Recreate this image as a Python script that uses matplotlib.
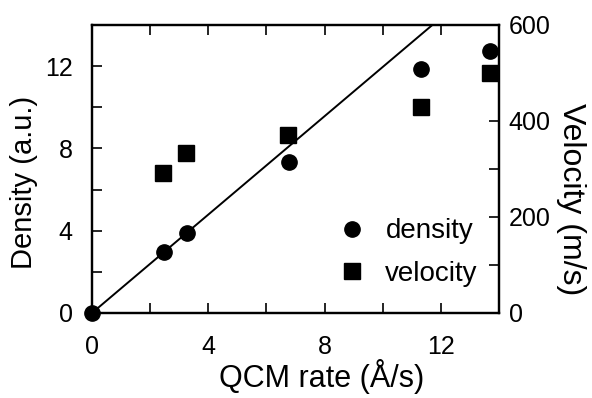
import matplotlib
matplotlib.use("Agg")
import matplotlib.pyplot as plt
import numpy as np
from matplotlib.ticker import MultipleLocator

plt.rcParams['font.family'] = ['Liberation Sans', 'DejaVu Sans']

# data
rate_density = [0.0, 2.48, 3.26, 6.78, 11.33, 13.68]
density = [0.0, 2.96, 3.89, 7.35, 11.85, 12.75]
rate_velocity = [2.45, 3.23, 6.75, 11.33, 13.68]
velocity = [291, 333, 371, 430, 499]
fit_slope = 1.196

fig = plt.figure(figsize=(5.92, 3.98), dpi=100)
ax = fig.add_axes([0.1554, 0.2136, 0.6876, 0.7236])
ax2 = ax.twinx()

# straight-line fit through the origin
xf = np.array([0, 14])
ax.plot(xf, fit_slope * xf, color='black', lw=1.4)
ax.plot(rate_density, density, 'o', color='black', ms=11, clip_on=False,
        zorder=5, label='density')
ax2.plot(rate_velocity, velocity, 's', color='black', ms=12, clip_on=False,
         zorder=5, label='velocity')

ax.set_xlim(0, 14)
ax.set_ylim(0, 14)
ax2.set_ylim(0, 600)

ax.xaxis.set_major_locator(MultipleLocator(4))
ax.xaxis.set_minor_locator(MultipleLocator(2))
ax.yaxis.set_major_locator(MultipleLocator(4))
ax.yaxis.set_minor_locator(MultipleLocator(2))
ax2.yaxis.set_major_locator(MultipleLocator(200))
ax2.yaxis.set_minor_locator(MultipleLocator(100))

ax.tick_params(which='both', direction='in', top=True, right=False,
               width=1.2, length=7, labelsize=18)
ax.tick_params(axis='x', which='major', pad=16)
ax.tick_params(axis='y', which='major', pad=14)
ax2.tick_params(which='both', direction='in', width=1.2, length=7,
                labelsize=18, pad=7)

for a in (ax, ax2):
    for s in a.spines.values():
        s.set_linewidth(1.6)

# axis titles sit a little off-centre in the original
ax.set_xlabel('QCM rate (Å/s)', fontsize=22, labelpad=0)
ax.xaxis.label.set_x(0.565)
ax.set_ylabel('Density (a.u.)', fontsize=21, labelpad=5)
ax.yaxis.label.set_y(0.453)
ax2.set_ylabel('Velocity (m/s)', fontsize=23, rotation=270, labelpad=25)
ax2.yaxis.label.set_y(0.394)

h1, l1 = ax.get_legend_handles_labels()
h2, l2 = ax2.get_legend_handles_labels()
ax2.legend(h1 + h2, l1 + l2, loc='lower right', frameon=False, fontsize=20,
           handletextpad=0.6, borderaxespad=0, borderpad=0, labelspacing=0.6,
           handlelength=1.2, bbox_to_anchor=(0.948, 0.09))

fig.savefig('out.png', dpi=100)
